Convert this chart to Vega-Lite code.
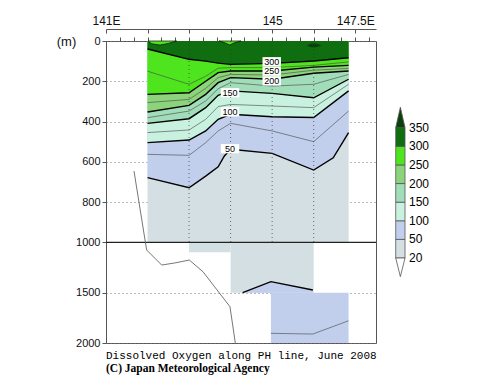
{
  "$schema": "https://vega.github.io/schema/vega-lite/v6.json",
  "width": 270,
  "height": 302,
  "autosize": "none",
  "padding": {"left": 106, "top": 41, "right": 124, "bottom": 44},
  "background": "white",
  "config": {
    "view": {"stroke": "#555", "strokeWidth": 1},
    "font": "Liberation Sans",
    "axis": {"labelFont": "Liberation Sans", "labelColor": "#111", "domainColor": "#555", "tickColor": "#555", "titleFont": "Liberation Sans", "titleColor": "#111"}
  },
  "title": {
    "text": "Dissolved Oxygen along PH line, June 2008",
    "subtitle": "(C) Japan Meteorological Agency",
    "orient": "bottom", "anchor": "start", "frame": "group", "offset": 2,
    "font": "Liberation Mono", "fontSize": 11, "fontWeight": "normal", "color": "#000",
    "subtitleFont": "Liberation Serif", "subtitleFontSize": 11.5, "subtitleFontWeight": "bold", "subtitleColor": "#000", "subtitlePadding": 2
  },
  "datasets": {
    "blocks": [
      {"x": 1, "x2": 5.84, "d": 0, "d2": 1000, "band": "20-50"},
      {"x": 2, "x2": 3, "d": 1000, "d2": 1100, "band": "20-50"},
      {"x": 3, "x2": 5, "d": 1000, "d2": 1500, "band": "20-50"},
      {"x": 3.97, "x2": 5.84, "d": 1500, "d2": 2000, "band": "50-100"}
    ],
    "contours": [
      {"seg": "c300", "lvl": "major", "x": 1, "d": 40}, {"seg": "c300", "lvl": "major", "x": 2, "d": 91}, {"seg": "c300", "lvl": "major", "x": 2.4, "d": 100}, {"seg": "c300", "lvl": "major", "x": 2.7, "d": 110}, {"seg": "c300", "lvl": "major", "x": 3, "d": 116}, {"seg": "c300", "lvl": "major", "x": 4, "d": 111}, {"seg": "c300", "lvl": "major", "x": 5, "d": 99}, {"seg": "c300", "lvl": "major", "x": 5.84, "d": 83},
      {"seg": "c275", "lvl": "minor", "x": 1, "d": 150}, {"seg": "c275", "lvl": "minor", "x": 2, "d": 215}, {"seg": "c275", "lvl": "minor", "x": 2.4, "d": 175}, {"seg": "c275", "lvl": "minor", "x": 2.7, "d": 135}, {"seg": "c275", "lvl": "minor", "x": 3, "d": 132}, {"seg": "c275", "lvl": "minor", "x": 4, "d": 132}, {"seg": "c275", "lvl": "minor", "x": 5, "d": 121}, {"seg": "c275", "lvl": "minor", "x": 5.84, "d": 104},
      {"seg": "c250", "lvl": "major", "x": 1, "d": 265}, {"seg": "c250", "lvl": "major", "x": 2, "d": 257}, {"seg": "c250", "lvl": "major", "x": 2.4, "d": 200}, {"seg": "c250", "lvl": "major", "x": 2.7, "d": 157}, {"seg": "c250", "lvl": "major", "x": 3, "d": 149}, {"seg": "c250", "lvl": "major", "x": 4, "d": 149}, {"seg": "c250", "lvl": "major", "x": 5, "d": 130}, {"seg": "c250", "lvl": "major", "x": 5.84, "d": 121},
      {"seg": "c225", "lvl": "minor", "x": 1, "d": 306}, {"seg": "c225", "lvl": "minor", "x": 2, "d": 290}, {"seg": "c225", "lvl": "minor", "x": 2.4, "d": 235}, {"seg": "c225", "lvl": "minor", "x": 2.7, "d": 182}, {"seg": "c225", "lvl": "minor", "x": 3, "d": 166}, {"seg": "c225", "lvl": "minor", "x": 4, "d": 169}, {"seg": "c225", "lvl": "minor", "x": 5, "d": 145}, {"seg": "c225", "lvl": "minor", "x": 5.84, "d": 136},
      {"seg": "c200", "lvl": "major", "x": 1, "d": 353}, {"seg": "c200", "lvl": "major", "x": 2, "d": 320}, {"seg": "c200", "lvl": "major", "x": 2.4, "d": 265}, {"seg": "c200", "lvl": "major", "x": 2.7, "d": 207}, {"seg": "c200", "lvl": "major", "x": 3, "d": 182}, {"seg": "c200", "lvl": "major", "x": 4, "d": 190}, {"seg": "c200", "lvl": "major", "x": 5, "d": 160}, {"seg": "c200", "lvl": "major", "x": 5.84, "d": 149},
      {"seg": "c175", "lvl": "minor", "x": 1, "d": 381}, {"seg": "c175", "lvl": "minor", "x": 2, "d": 348}, {"seg": "c175", "lvl": "minor", "x": 2.4, "d": 298}, {"seg": "c175", "lvl": "minor", "x": 2.7, "d": 237}, {"seg": "c175", "lvl": "minor", "x": 3, "d": 207}, {"seg": "c175", "lvl": "minor", "x": 4, "d": 224}, {"seg": "c175", "lvl": "minor", "x": 5, "d": 215}, {"seg": "c175", "lvl": "minor", "x": 5.84, "d": 166},
      {"seg": "c150", "lvl": "major", "x": 1, "d": 409}, {"seg": "c150", "lvl": "major", "x": 2, "d": 386}, {"seg": "c150", "lvl": "major", "x": 2.4, "d": 331}, {"seg": "c150", "lvl": "major", "x": 2.7, "d": 270}, {"seg": "c150", "lvl": "major", "x": 3, "d": 248}, {"seg": "c150", "lvl": "major", "x": 4, "d": 260}, {"seg": "c150", "lvl": "major", "x": 5, "d": 282}, {"seg": "c150", "lvl": "major", "x": 5.84, "d": 190},
      {"seg": "c125", "lvl": "minor", "x": 1, "d": 455}, {"seg": "c125", "lvl": "minor", "x": 2, "d": 442}, {"seg": "c125", "lvl": "minor", "x": 2.4, "d": 389}, {"seg": "c125", "lvl": "minor", "x": 2.7, "d": 326}, {"seg": "c125", "lvl": "minor", "x": 3, "d": 315}, {"seg": "c125", "lvl": "minor", "x": 4, "d": 323}, {"seg": "c125", "lvl": "minor", "x": 5, "d": 331}, {"seg": "c125", "lvl": "minor", "x": 5.84, "d": 215},
      {"seg": "c100", "lvl": "major", "x": 1, "d": 505}, {"seg": "c100", "lvl": "major", "x": 2, "d": 492}, {"seg": "c100", "lvl": "major", "x": 2.4, "d": 447}, {"seg": "c100", "lvl": "major", "x": 2.7, "d": 389}, {"seg": "c100", "lvl": "major", "x": 3, "d": 364}, {"seg": "c100", "lvl": "major", "x": 4, "d": 376}, {"seg": "c100", "lvl": "major", "x": 5, "d": 380}, {"seg": "c100", "lvl": "major", "x": 5.84, "d": 248},
      {"seg": "c75", "lvl": "minor", "x": 1, "d": 563}, {"seg": "c75", "lvl": "minor", "x": 2, "d": 568}, {"seg": "c75", "lvl": "minor", "x": 2.4, "d": 505}, {"seg": "c75", "lvl": "minor", "x": 2.7, "d": 447}, {"seg": "c75", "lvl": "minor", "x": 3, "d": 409}, {"seg": "c75", "lvl": "minor", "x": 4, "d": 447}, {"seg": "c75", "lvl": "minor", "x": 5, "d": 500}, {"seg": "c75", "lvl": "minor", "x": 5.84, "d": 348},
      {"seg": "c50", "lvl": "major", "x": 1, "d": 679}, {"seg": "c50", "lvl": "major", "x": 2, "d": 729}, {"seg": "c50", "lvl": "major", "x": 2.4, "d": 671}, {"seg": "c50", "lvl": "major", "x": 2.7, "d": 625}, {"seg": "c50", "lvl": "major", "x": 2.85, "d": 571}, {"seg": "c50", "lvl": "major", "x": 3, "d": 538}, {"seg": "c50", "lvl": "major", "x": 4, "d": 558}, {"seg": "c50", "lvl": "major", "x": 5, "d": 641}, {"seg": "c50", "lvl": "major", "x": 5.47, "d": 580}, {"seg": "c50", "lvl": "major", "x": 5.84, "d": 455},
      {"seg": "c50d", "lvl": "major", "x": 3.29, "d": 1500}, {"seg": "c50d", "lvl": "major", "x": 3.97, "d": 1391}, {"seg": "c50d", "lvl": "major", "x": 4.98, "d": 1474},
      {"seg": "c75d", "lvl": "minor", "x": 3.97, "d": 1904}, {"seg": "c75d", "lvl": "minor", "x": 4.98, "d": 1911}, {"seg": "c75d", "lvl": "minor", "x": 5.84, "d": 1779}
    ],
    "notch": [
      {"seg": "n1", "x": 1.02, "d": 0}, {"seg": "n1", "x": 1.1, "d": 14}, {"seg": "n1", "x": 1.3, "d": 20}, {"seg": "n1", "x": 1.5, "d": 12}, {"seg": "n1", "x": 1.7, "d": 0},
      {"seg": "n2", "x": 2.72, "d": 0}, {"seg": "n2", "x": 2.85, "d": 8}, {"seg": "n2", "x": 2.98, "d": 20}, {"seg": "n2", "x": 3.1, "d": 8}, {"seg": "n2", "x": 3.25, "d": 0}
    ],
    "blob": [
      {"x": 4.83, "d": 22, "d2": 22}, {"x": 4.95, "d": 13, "d2": 31}, {"x": 5.05, "d": 13, "d2": 31}, {"x": 5.19, "d": 22, "d2": 22}
    ],
    "bottom": [
      {"x": 0.674, "d": 646}, {"x": 0.951, "d": 1007}, {"x": 0.98, "d": 1077}, {"x": 1.341, "d": 1226}, {"x": 1.685, "d": 1203}, {"x": 2.005, "d": 1176}, {"x": 2.335, "d": 1292}, {"x": 2.985, "d": 1640}, {"x": 3.113, "d": 2000}
    ],
    "stations": [{"x": 2}, {"x": 3}, {"x": 4}, {"x": 5}],
    "clabels": [
      {"t": "300", "x": 3.99, "d": 103}, {"t": "250", "x": 3.99, "d": 150}, {"t": "200", "x": 3.99, "d": 198},
      {"t": "150", "x": 2.985, "d": 257}, {"t": "100", "x": 2.985, "d": 352}, {"t": "50", "x": 2.985, "d": 535}
    ],
    "legend": [
      {"band": "20-50", "p": 0, "p2": 1}, {"band": "50-100", "p": 1, "p2": 2}, {"band": "100-150", "p": 2, "p2": 3}, {"band": "150-200", "p": 3, "p2": 4}, {"band": "200-250", "p": 4, "p2": 5}, {"band": "250-300", "p": 5, "p2": 6}, {"band": "300-350", "p": 6, "p2": 7}
    ],
    "legendtri": [
      {"band": "<20", "tx": 0, "p": 0, "base": 0}, {"band": "<20", "tx": 0.5, "p": -1, "base": 0}, {"band": "<20", "tx": 1, "p": 0, "base": 0},
      {"band": ">350", "tx": 0, "p": 7, "base": 7}, {"band": ">350", "tx": 0.5, "p": 8.1, "base": 7}, {"band": ">350", "tx": 1, "p": 7, "base": 7}
    ],
    "legendlab": [
      {"lab": "20", "p": 0}, {"lab": "50", "p": 1}, {"lab": "100", "p": 2}, {"lab": "150", "p": 3}, {"lab": "200", "p": 4}, {"lab": "250", "p": 5}, {"lab": "300", "p": 6}, {"lab": "350", "p": 7}
    ],
    "deep": [{"d": 1000}]
  },
  "layer": [
    {
      "layer": [
        {
          "data": {"name": "blocks"},
          "mark": {"type": "rect", "opacity": 1},
          "encoding": {
            "x": {"field": "x", "type": "quantitative", "scale": {"domain": [0, 6.5], "nice": false, "zero": false},
              "axis": {"orient": "top", "offset": 12, "values": [0, 1, 2, 3, 4, 5, 6], "labelExpr": "datum.value == 0 ? '141E' : datum.value == 4 ? '145' : datum.value == 6 ? '147.5E' : ''", "tickSize": -4, "labelPadding": 6, "labelFontSize": 12, "labelFlush": false, "labelOverlap": false, "labelAngle": 0, "grid": false, "title": null}},
            "x2": {"field": "x2"},
            "y": {"field": "d", "type": "quantitative", "scale": {"domain": [0, 1000, 2000], "range": [0, 201.3, 302], "nice": false, "zero": false},
              "axis": {"orient": "left", "values": [0, 200, 400, 600, 800, 1000, 1500, 2000], "format": "d", "tickSize": 4, "labelPadding": 2, "labelFontSize": 11, "labelFlush": false, "labelOverlap": false, "grid": true, "gridDash": [1, 3], "gridColor": "#777", "zindex": 0, "title": "(m)", "titleAngle": 0, "titleX": -40, "titleY": 0, "titleAlign": "center", "titleBaseline": "middle", "titleFontSize": 13, "titleFontWeight": "normal"}},
            "y2": {"field": "d2"},
            "color": {"field": "band", "type": "nominal", "legend": null,
              "scale": {"domain": ["<20", "20-50", "50-100", "100-150", "150-200", "200-250", "250-300", "300-350", ">350"],
                "range": ["#ffffff", "#d3dfe3", "#c1cfec", "#c9f1e0", "#a2ddb9", "#8cd47b", "#4ee41e", "#0f6e10", "#0b3f0b"]}}
          }
        },
        {
          "data": {"name": "contours"}, "transform": [{"filter": "datum.seg == 'c50d'"}],
          "mark": {"type": "area", "opacity": 1},
          "encoding": {"x": {"field": "x", "type": "quantitative", "axis": null}, "y": {"field": "d", "type": "quantitative", "stack": null}, "y2": {"datum": 1500}, "color": {"datum": "50-100", "type": "nominal", "legend": null}}
        },
        {
          "data": {"name": "contours"}, "transform": [{"filter": "datum.seg == 'c50'"}],
          "mark": {"type": "area", "opacity": 1},
          "encoding": {"x": {"field": "x", "type": "quantitative", "axis": null}, "y": {"field": "d", "type": "quantitative", "stack": null}, "y2": {"datum": 0}, "color": {"datum": "50-100", "type": "nominal", "legend": null}}
        },
        {
          "data": {"name": "contours"}, "transform": [{"filter": "datum.seg == 'c100'"}],
          "mark": {"type": "area", "opacity": 1},
          "encoding": {"x": {"field": "x", "type": "quantitative", "axis": null}, "y": {"field": "d", "type": "quantitative", "stack": null}, "y2": {"datum": 0}, "color": {"datum": "100-150", "type": "nominal", "legend": null}}
        },
        {
          "data": {"name": "contours"}, "transform": [{"filter": "datum.seg == 'c150'"}],
          "mark": {"type": "area", "opacity": 1},
          "encoding": {"x": {"field": "x", "type": "quantitative", "axis": null}, "y": {"field": "d", "type": "quantitative", "stack": null}, "y2": {"datum": 0}, "color": {"datum": "150-200", "type": "nominal", "legend": null}}
        },
        {
          "data": {"name": "contours"}, "transform": [{"filter": "datum.seg == 'c200'"}],
          "mark": {"type": "area", "opacity": 1},
          "encoding": {"x": {"field": "x", "type": "quantitative", "axis": null}, "y": {"field": "d", "type": "quantitative", "stack": null}, "y2": {"datum": 0}, "color": {"datum": "200-250", "type": "nominal", "legend": null}}
        },
        {
          "data": {"name": "contours"}, "transform": [{"filter": "datum.seg == 'c250'"}],
          "mark": {"type": "area", "opacity": 1},
          "encoding": {"x": {"field": "x", "type": "quantitative", "axis": null}, "y": {"field": "d", "type": "quantitative", "stack": null}, "y2": {"datum": 0}, "color": {"datum": "250-300", "type": "nominal", "legend": null}}
        },
        {
          "data": {"name": "contours"}, "transform": [{"filter": "datum.seg == 'c300'"}],
          "mark": {"type": "area", "opacity": 1},
          "encoding": {"x": {"field": "x", "type": "quantitative", "axis": null}, "y": {"field": "d", "type": "quantitative", "stack": null}, "y2": {"datum": 0}, "color": {"datum": "300-350", "type": "nominal", "legend": null}}
        },
        {
          "data": {"name": "notch"},
          "mark": {"type": "area", "opacity": 1, "stroke": "#111", "strokeWidth": 0.7},
          "encoding": {"x": {"field": "x", "type": "quantitative", "axis": null}, "y": {"field": "d", "type": "quantitative", "stack": null}, "y2": {"datum": 0}, "detail": {"field": "seg"}, "color": {"datum": "250-300", "type": "nominal", "legend": null}}
        },
        {
          "data": {"name": "blob"},
          "mark": {"type": "area", "opacity": 1},
          "encoding": {"x": {"field": "x", "type": "quantitative", "axis": null}, "y": {"field": "d", "type": "quantitative", "stack": null}, "y2": {"field": "d2"}, "color": {"datum": ">350", "type": "nominal", "legend": null}}
        },
        {
          "data": {"name": "contours"}, "transform": [{"filter": "datum.lvl == 'minor'"}],
          "mark": {"type": "line", "color": "#444", "strokeWidth": 0.6},
          "encoding": {"x": {"field": "x", "type": "quantitative", "axis": null}, "y": {"field": "d", "type": "quantitative"}, "detail": {"field": "seg"}}
        },
        {
          "data": {"name": "contours"}, "transform": [{"filter": "datum.lvl == 'major'"}],
          "mark": {"type": "line", "color": "#000", "strokeWidth": 1.4},
          "encoding": {"x": {"field": "x", "type": "quantitative", "axis": null}, "y": {"field": "d", "type": "quantitative"}, "detail": {"field": "seg"}}
        },
        {
          "data": {"name": "stations"},
          "mark": {"type": "rule", "color": "#333", "strokeWidth": 1, "strokeDash": [1, 3], "opacity": 0.7},
          "encoding": {
            "x": {"field": "x", "type": "quantitative",
              "axis": {"orient": "top", "values": [0.3333, 0.6667, 1, 1.3333, 1.6667, 2, 2.3333, 2.6667, 3, 3.3333, 3.6667, 4, 4.3333, 4.6667, 5, 5.3333, 5.6667, 6, 6.3333], "labels": false, "tickSize": 4, "domain": false, "grid": false, "title": null}},
            "y": {"datum": 0, "type": "quantitative"}, "y2": {"datum": 1000}
          }
        },
        {
          "data": {"name": "deep"},
          "mark": {"type": "rule", "color": "#222", "strokeWidth": 1.2},
          "encoding": {"y": {"field": "d", "type": "quantitative"}}
        },
        {
          "data": {"name": "bottom"},
          "mark": {"type": "line", "color": "#666", "strokeWidth": 0.9},
          "encoding": {"x": {"field": "x", "type": "quantitative", "axis": null}, "y": {"field": "d", "type": "quantitative"}}
        },
        {
          "data": {"name": "clabels"},
          "mark": {"type": "point", "shape": "M-1,-0.5H1V0.5H-1Z", "filled": true, "color": "white", "opacity": 1, "size": 340, "strokeWidth": 0},
          "encoding": {"x": {"field": "x", "type": "quantitative", "axis": null}, "y": {"field": "d", "type": "quantitative"}}
        },
        {
          "data": {"name": "clabels"},
          "mark": {"type": "text", "font": "Liberation Sans", "fontSize": 9, "color": "#000", "baseline": "middle", "align": "center"},
          "encoding": {"x": {"field": "x", "type": "quantitative", "axis": null}, "y": {"field": "d", "type": "quantitative"}, "text": {"field": "t"}}
        }
      ],
      "resolve": {"axis": {"x": "independent"}}
    },
    {
      "layer": [
        {
          "data": {"name": "legend"},
          "mark": {"type": "rect", "opacity": 1, "stroke": "#555", "strokeWidth": 0.8},
          "encoding": {
            "x": {"datum": 0, "type": "quantitative", "scale": {"domain": [-31.15, -2.12], "nice": false, "zero": false}, "axis": null},
            "x2": {"datum": 1},
            "y": {"field": "p", "type": "quantitative", "scale": {"domain": [-4.566, 11.658], "nice": false, "zero": false}, "axis": null},
            "y2": {"field": "p2"},
            "color": {"field": "band", "type": "nominal", "legend": null}
          }
        },
        {
          "data": {"name": "legendtri"},
          "mark": {"type": "area", "opacity": 1, "stroke": "#555", "strokeWidth": 0.8},
          "encoding": {
            "x": {"field": "tx", "type": "quantitative", "axis": null},
            "y": {"field": "p", "type": "quantitative", "axis": null, "stack": null},
            "y2": {"field": "base"},
            "color": {"field": "band", "type": "nominal", "legend": null}
          }
        },
        {
          "data": {"name": "legendlab"},
          "mark": {"type": "text", "font": "Liberation Sans", "fontSize": 12, "color": "#000", "align": "left", "baseline": "middle", "dx": 4},
          "encoding": {
            "x": {"datum": 1, "type": "quantitative", "axis": null},
            "y": {"field": "p", "type": "quantitative", "axis": null},
            "text": {"field": "lab"}
          }
        }
      ]
    }
  ],
  "resolve": {"scale": {"x": "independent", "y": "independent"}}
}
